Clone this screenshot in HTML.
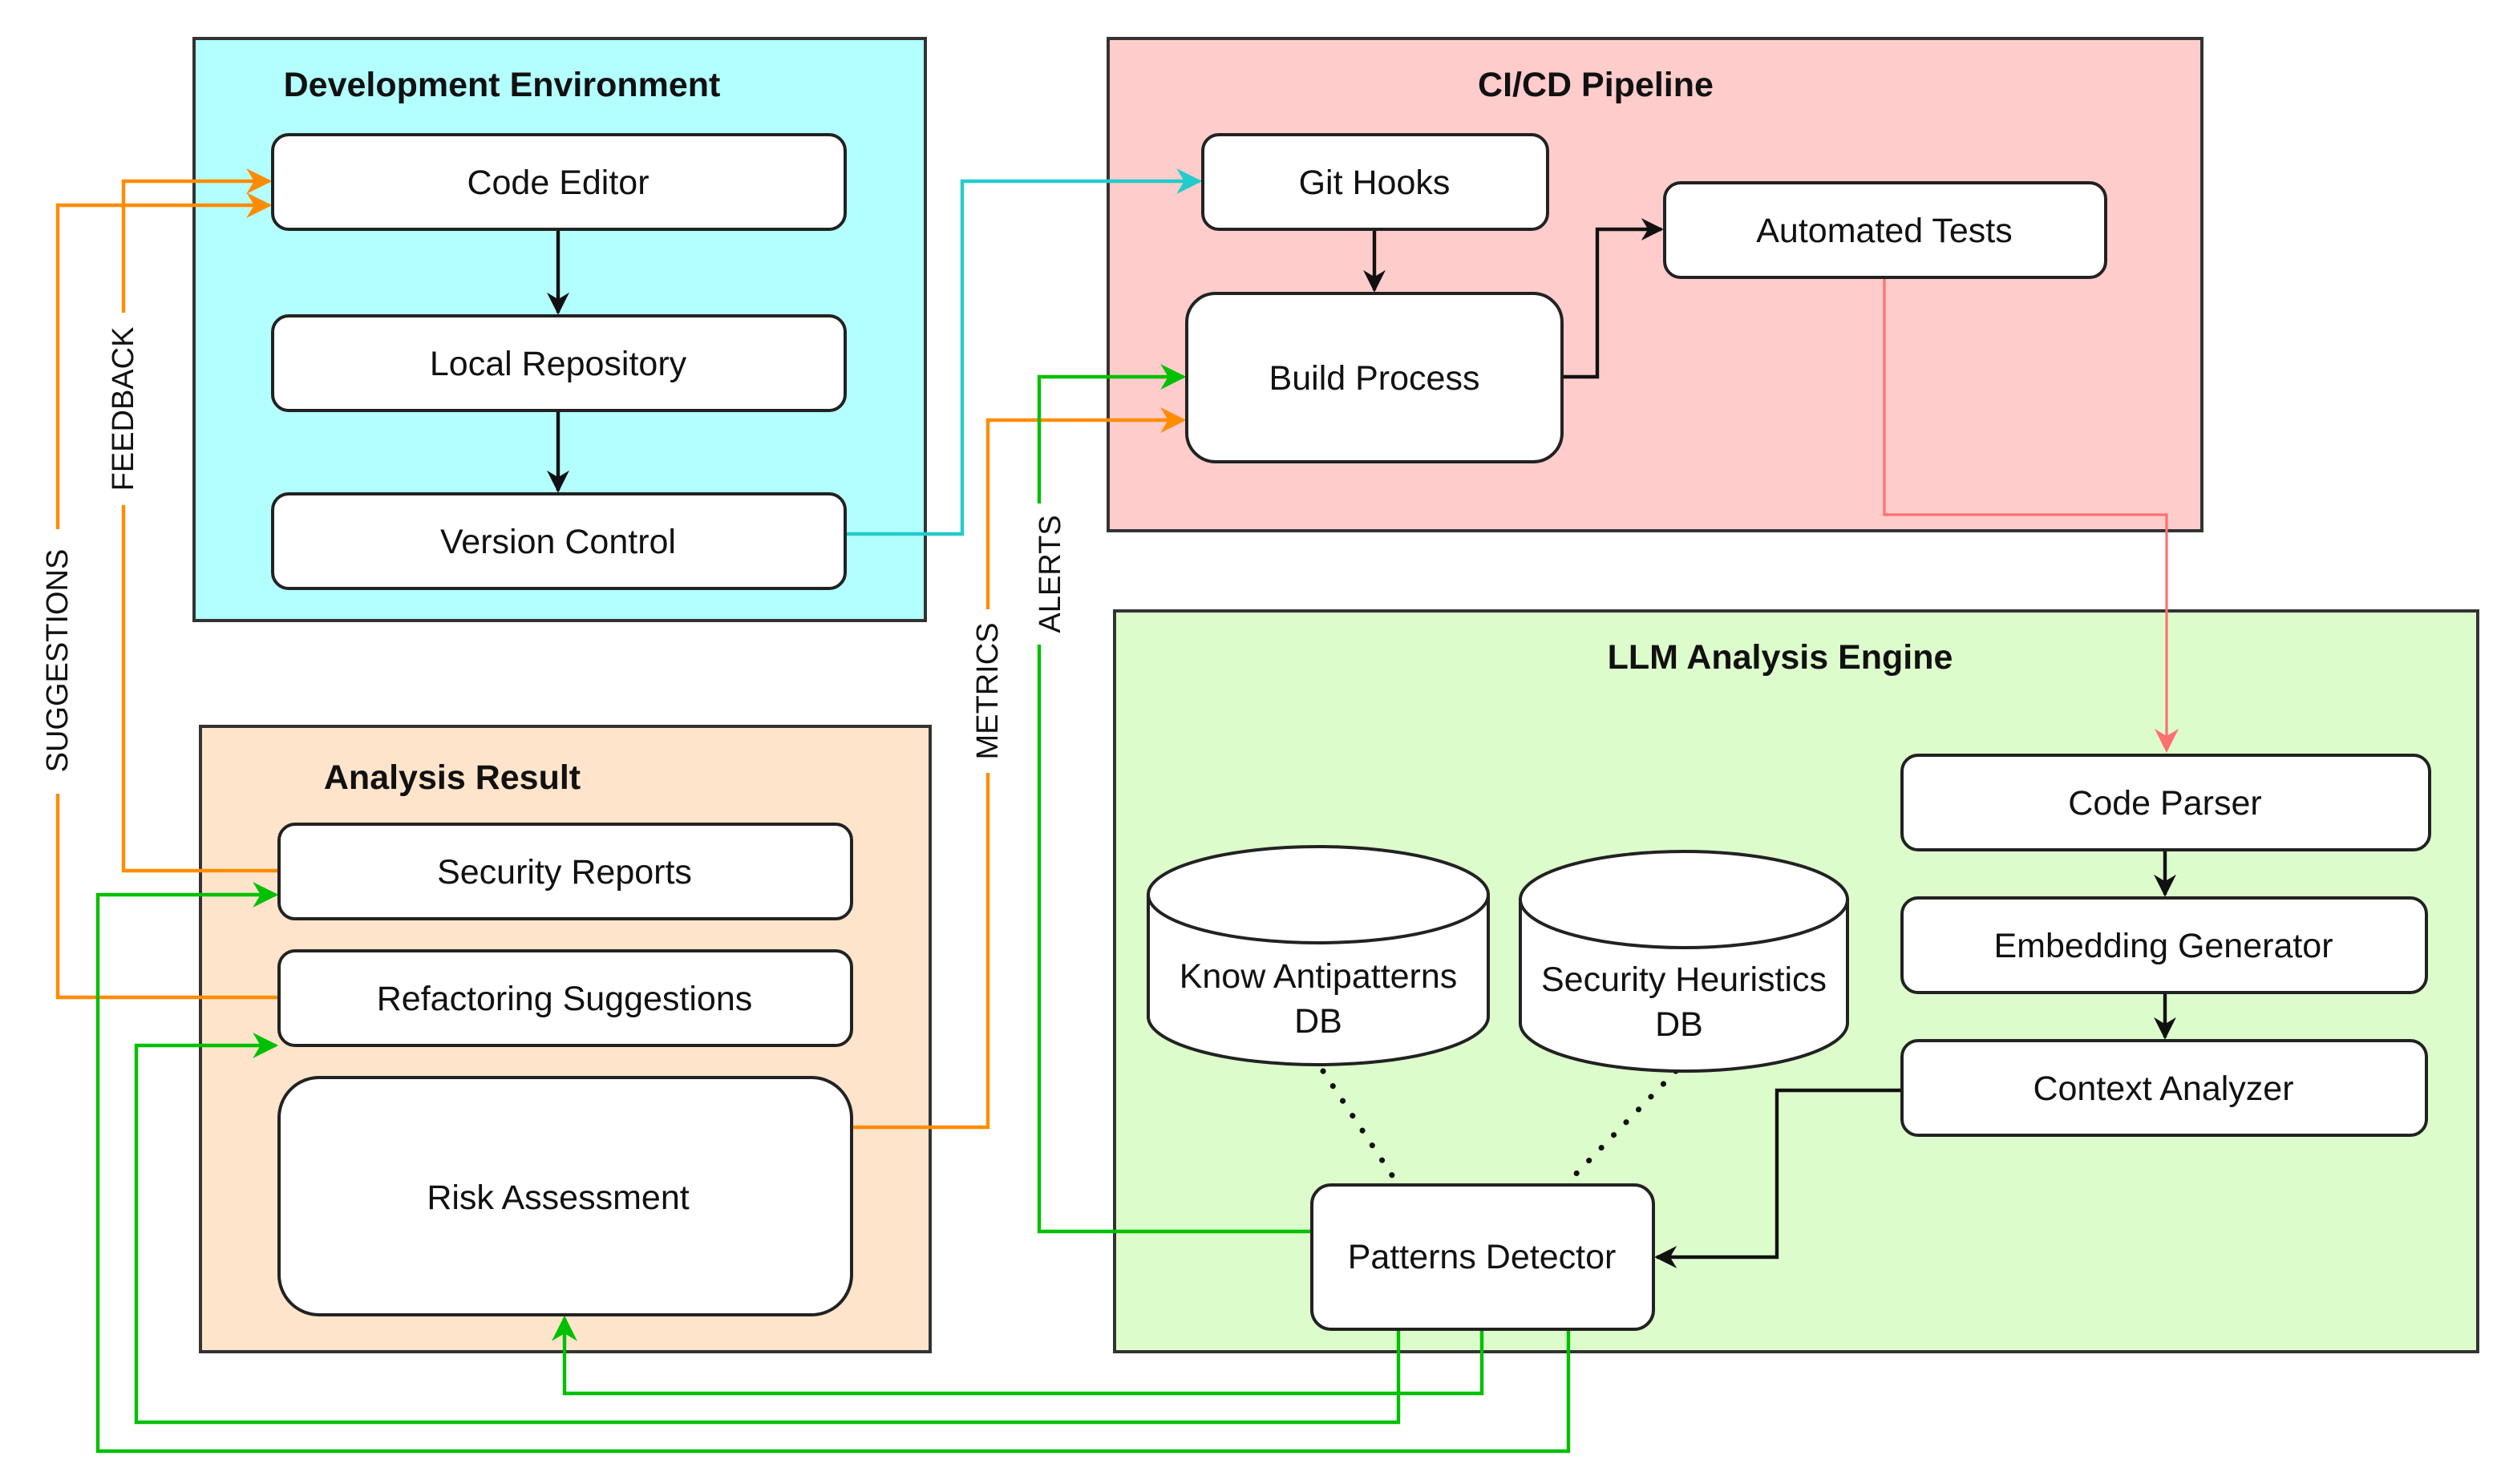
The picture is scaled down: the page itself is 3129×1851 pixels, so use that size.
<!DOCTYPE html>
<html><head><meta charset="utf-8"><style>
html,body{margin:0;padding:0;background:#fff;}
svg{display:block;}
text{font-family:"Liberation Sans",Arial,sans-serif;fill:#111;}
.t{font-size:21.5px;text-anchor:middle;dominant-baseline:central;}
.h{font-size:21.5px;font-weight:bold;text-anchor:middle;dominant-baseline:central;}
.l{font-size:19px;text-anchor:middle;dominant-baseline:central;}
.n{fill:#fff;stroke:#222;stroke-width:2;}
.g{stroke:#333;stroke-width:2;}
</style></head><body>
<svg width="3129" height="1851" viewBox="0 0 1564.5 925.5" xmlns="http://www.w3.org/2000/svg">
<defs>
<marker id="ak" viewBox="0 0 10 10" refX="9" refY="5" markerWidth="14" markerHeight="14" markerUnits="userSpaceOnUse" orient="auto"><path d="M0,0 L10,5 L0,10 L3,5z" fill="#111"/></marker>
<marker id="ao" viewBox="0 0 10 10" refX="9" refY="5" markerWidth="16" markerHeight="16" markerUnits="userSpaceOnUse" orient="auto"><path d="M0,0 L10,5 L0,10 L3,5z" fill="#ff8c00"/></marker>
<marker id="ag" viewBox="0 0 10 10" refX="9" refY="5" markerWidth="16" markerHeight="16" markerUnits="userSpaceOnUse" orient="auto"><path d="M0,0 L10,5 L0,10 L3,5z" fill="#00c000"/></marker>
<marker id="ac" viewBox="0 0 10 10" refX="9" refY="5" markerWidth="16" markerHeight="16" markerUnits="userSpaceOnUse" orient="auto"><path d="M0,0 L10,5 L0,10 L3,5z" fill="#22cccc"/></marker>
<marker id="as" viewBox="0 0 10 10" refX="9" refY="5" markerWidth="15" markerHeight="15" markerUnits="userSpaceOnUse" orient="auto"><path d="M0,0 L10,5 L0,10 L3,5z" fill="#ff7070"/></marker>
</defs>

<rect x="121" y="24" width="456" height="363" fill="#b3ffff" class="g"/>
<text x="313" y="53" class="h">Development Environment</text>
<rect x="691" y="24" width="682" height="307" fill="#ffcccc" class="g"/>
<text x="995" y="53" class="h">CI/CD Pipeline</text>
<rect x="695" y="381" width="850" height="462" fill="#ddfccc" class="g"/>
<text x="1110" y="410" class="h">LLM Analysis Engine</text>
<rect x="125" y="453" width="455" height="390" fill="#ffe4cc" class="g"/>
<text x="282" y="485" class="h">Analysis Result</text>

<g fill="none" stroke-width="2.2">
<path d="M348,143 V195" stroke="#111" marker-end="url(#ak)"/>
<path d="M348,256 V306" stroke="#111" marker-end="url(#ak)"/>
<path d="M857,143 V181" stroke="#111" marker-end="url(#ak)"/>
<path d="M974,235 H996 V143 H1036" stroke="#111" marker-end="url(#ak)"/>
<path d="M1350,530 V558" stroke="#111" marker-end="url(#ak)"/>
<path d="M1350,619 V647" stroke="#111" marker-end="url(#ak)"/>
<path d="M1186,680 H1108 V784 H1033" stroke="#111" marker-end="url(#ak)"/>
<path d="M527,333 H600 V113 H748" stroke="#22cccc" marker-end="url(#ac)"/>
<path d="M1175,173 V321 H1351 V468" stroke="#ff7070" stroke-width="1.6" marker-end="url(#as)"/>
<path d="M174,543 H77 V113 H168" stroke="#ff8c00" marker-end="url(#ao)"/>
<path d="M174,622 H36 V128 H168" stroke="#ff8c00" marker-end="url(#ao)"/>
<path d="M531,703 H616 V262 H738" stroke="#ff8c00" marker-end="url(#ao)"/>
<path d="M818,768 H648 V235 H738" stroke="#00c000" marker-end="url(#ag)"/>
<path d="M924,829 V869 H352 V822" stroke="#00c000" marker-end="url(#ag)"/>
<path d="M872,829 V887 H85 V652 H172" stroke="#00c000" marker-end="url(#ag)"/>
<path d="M978,829 V905 H61 V558 H172" stroke="#00c000" marker-end="url(#ag)"/>
<path d="M825,668 L872,739" stroke="#111" stroke-width="3.5" stroke-dasharray="0.1 11" stroke-linecap="round"/>
<path d="M1045,668 L976,739" stroke="#111" stroke-width="3.5" stroke-dasharray="0.1 11" stroke-linecap="round"/>
</g>

<rect x="67" y="195" width="20" height="120" fill="#fff"/>
<text class="l" transform="translate(77,255) rotate(-90)">FEEDBACK</text>
<rect x="26" y="330" width="20" height="165" fill="#fff"/>
<text class="l" transform="translate(36,412) rotate(-90)">SUGGESTIONS</text>
<rect x="606" y="380" width="20" height="102" fill="#fff"/>
<text class="l" transform="translate(616,431) rotate(-90)">METRICS</text>
<rect x="645" y="314" width="22" height="88" fill="#fff"/>
<text class="l" transform="translate(655,358) rotate(-90)">ALERTS</text>

<rect x="170" y="84" width="357" height="59" rx="10" class="n"/><text x="348" y="114" class="t">Code Editor</text>
<rect x="170" y="197" width="357" height="59" rx="10" class="n"/><text x="348" y="227" class="t">Local Repository</text>
<rect x="170" y="308" width="357" height="59" rx="10" class="n"/><text x="348" y="338" class="t">Version Control</text>

<rect x="750" y="84" width="215" height="59" rx="10" class="n"/><text x="857" y="114" class="t">Git Hooks</text>
<rect x="740" y="183" width="234" height="105" rx="18" class="n"/><text x="857" y="236" class="t">Build Process</text>
<rect x="1038" y="114" width="275" height="59" rx="10" class="n"/><text x="1175" y="144" class="t">Automated Tests</text>

<rect x="1186" y="471" width="329" height="59" rx="10" class="n"/><text x="1350" y="501" class="t">Code Parser</text>
<rect x="1186" y="560" width="327" height="59" rx="10" class="n"/><text x="1349" y="590" class="t">Embedding Generator</text>
<rect x="1186" y="649" width="327" height="59" rx="10" class="n"/><text x="1349" y="679" class="t">Context Analyzer</text>

<path d="M716,558 V634 A106,30 0 0 0 928,634 V558 A106,30 0 0 0 716,558 Z" class="n"/>
<path d="M716,558 A106,30 0 0 0 928,558" fill="none" stroke="#222" stroke-width="2"/>
<text x="822" y="609" class="t">Know Antipatterns</text><text x="822" y="637" class="t">DB</text>
<path d="M948,561 V638 A102,30 0 0 0 1152,638 V561 A102,30 0 0 0 948,561 Z" class="n"/>
<path d="M948,561 A102,30 0 0 0 1152,561" fill="none" stroke="#222" stroke-width="2"/>
<text x="1050" y="611" class="t">Security Heuristics</text><text x="1047" y="639" class="t">DB</text>

<rect x="818" y="739" width="213" height="90" rx="12" class="n"/><text x="924" y="784" class="t">Patterns Detector</text>

<rect x="174" y="514" width="357" height="59" rx="10" class="n"/><text x="352" y="544" class="t">Security Reports</text>
<rect x="174" y="593" width="357" height="59" rx="10" class="n"/><text x="352" y="623" class="t">Refactoring Suggestions</text>
<rect x="174" y="672" width="357" height="148" rx="25" class="n"/><text x="348" y="747" class="t">Risk Assessment</text>
</svg>
</body></html>
